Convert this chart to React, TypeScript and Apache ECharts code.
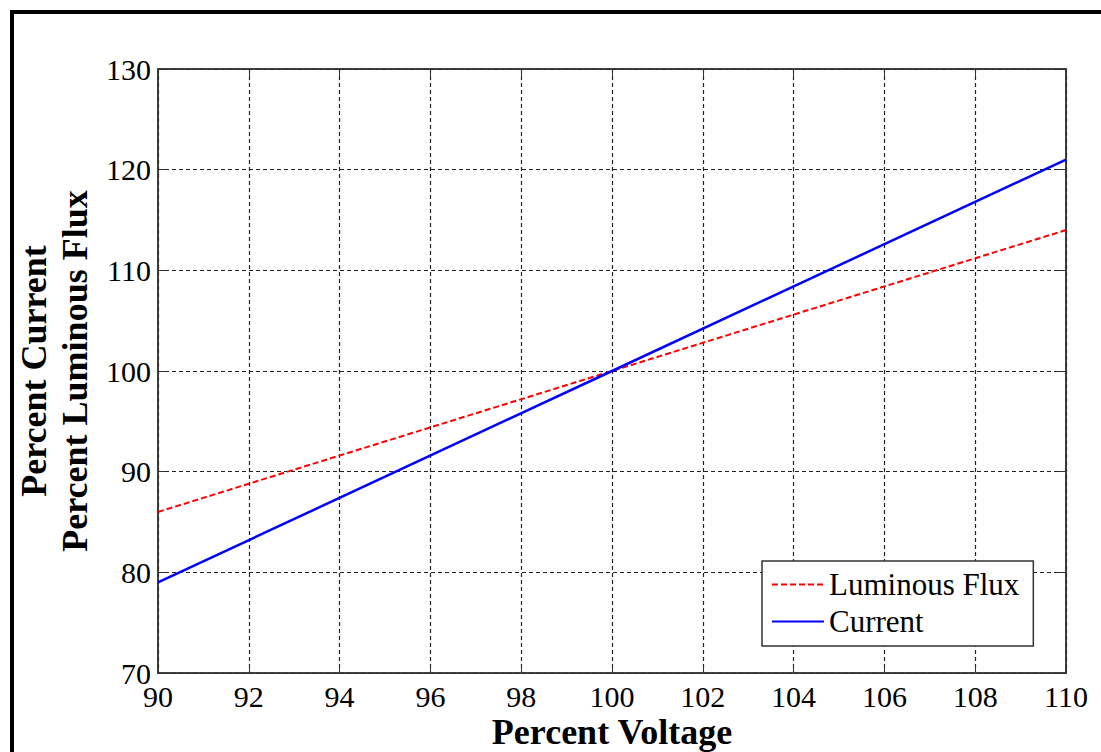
import React, { useEffect, useRef } from "react";
import * as echarts from "echarts";

const voltage = [90, 100, 110];
const luminousFlux = [86, 100, 114];
const current = [79, 100, 121];
const seriesNames = ["Luminous Flux", "Current"];
const xTitle = "Percent Voltage";
const yTitle = "Percent Current\nPercent Luminous Flux";

const FONT = "'Liberation Serif', 'Times New Roman', serif";

export default function App() {
  const ref = useRef<HTMLDivElement>(null);
  useEffect(() => {
    document.body.style.margin = "0";
    const chart = echarts.init(ref.current!, null, { renderer: "svg" });
    const axisLineColor = "#333";
    const tickInside = { show: true, inside: true, length: 8, lineStyle: { color: axisLineColor, width: 1 } };
    chart.setOption({
      animation: false,
      backgroundColor: "#fff",
      textStyle: { fontFamily: FONT },
      grid: {
        left: 158,
        top: 69,
        right: 35,
        bottom: 79,
        containLabel: false,
        outerBoundsMode: "none",
        show: true,
        borderColor: axisLineColor,
        borderWidth: 1.5,
      },
      xAxis: [
        {
          type: "value",
          min: 90,
          max: 110,
          interval: 2,
          position: "bottom",
          name: xTitle,
          nameLocation: "middle",
          nameGap: 41,
          nameMoveOverlap: false,
          nameTextStyle: { fontFamily: FONT, fontSize: 36, fontWeight: "bold", color: "#000", lineHeight: 36 },
          axisLine: { show: true, lineStyle: { color: axisLineColor, width: 1.5 } },
          axisTick: tickInside,
          axisLabel: { fontFamily: FONT, fontSize: 30, color: "#000", margin: 8, lineHeight: 30 },
          splitLine: { show: true, lineStyle: { color: "#222", type: [4, 3], width: 1.2 } },
        },
        {
          type: "value",
          min: 90,
          max: 110,
          interval: 2,
          position: "top",
          axisLine: { show: true, lineStyle: { color: axisLineColor, width: 1.5 } },
          axisTick: tickInside,
          axisLabel: { show: false },
          splitLine: { show: false },
        },
      ],
      yAxis: [
        {
          type: "value",
          min: 70,
          max: 130,
          interval: 10,
          position: "left",
          name: yTitle,
          nameLocation: "middle",
          nameRotate: 90,
          nameGap: 63,
          nameTextStyle: { fontFamily: FONT, fontSize: 36, fontWeight: "bold", color: "#000", lineHeight: 41 },
          axisLine: { show: true, lineStyle: { color: axisLineColor, width: 1.5 } },
          axisTick: tickInside,
          axisLabel: { fontFamily: FONT, fontSize: 30, color: "#000", margin: 7 },
          splitLine: { show: true, lineStyle: { color: "#222", type: [4, 3], width: 1.2 } },
        },
        {
          type: "value",
          min: 70,
          max: 130,
          interval: 10,
          position: "right",
          axisLine: { show: true, lineStyle: { color: axisLineColor, width: 1.5 } },
          axisTick: tickInside,
          axisLabel: { show: false },
          splitLine: { show: false },
        },
      ],
      legend: {
        orient: "vertical",
        left: 762,
        top: 561,
        data: seriesNames,
        itemWidth: 52,
        itemHeight: 14,
        itemGap: 6,
        padding: [8, 14, 9, 9],
        backgroundColor: "#fff",
        borderColor: "#333",
        borderWidth: 1.5,
        borderRadius: 0,
        itemStyle: { opacity: 0 },
        textStyle: { fontFamily: FONT, fontSize: 31, color: "#000" },
      },
      series: [
        {
          name: seriesNames[0],
          type: "line",
          data: voltage.map((v, i) => [v, luminousFlux[i]]),
          showSymbol: false,
          symbol: "none",
          lineStyle: { color: "#ff0000", width: 2, type: [6, 3] },
          itemStyle: { color: "#ff0000" },
          z: 3,
        },
        {
          name: seriesNames[1],
          type: "line",
          data: voltage.map((v, i) => [v, current[i]]),
          showSymbol: false,
          symbol: "none",
          lineStyle: { color: "#0000ff", width: 2.5 },
          itemStyle: { color: "#0000ff" },
          z: 4,
        },
      ],
      graphic: [
        { type: "line", shape: { x1: 12, y1: 10, x2: 12, y2: 752 }, style: { stroke: "#000", lineWidth: 4 } },
        { type: "line", shape: { x1: 10, y1: 12, x2: 1101, y2: 12 }, style: { stroke: "#000", lineWidth: 4 } },
      ],
    });
    return () => chart.dispose();
  }, []);
  return <div ref={ref} style={{ width: 1101, height: 752 }} />;
}
